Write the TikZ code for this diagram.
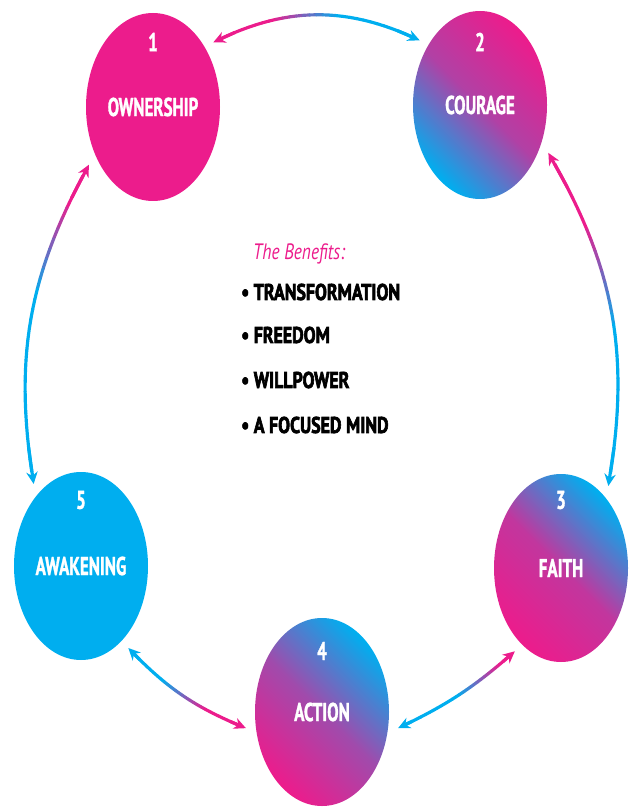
\documentclass[tikz,border=0pt]{standalone}
\usepackage{xcolor}
\usepackage{fontspec}
\usepackage{tikz}
\usetikzlibrary{shapes.geometric,arrows.meta}
\newfontfamily\stagefont{PT Sans}[FakeStretch=0.66, BoldFeatures={FakeBold=1.2}]
\newfontfamily\listfont{PT Sans}[FakeStretch=0.78, BoldFeatures={FakeBold=2.6}]
\definecolor{pinkC}{HTML}{EC1C8C}
\definecolor{cyanC}{HTML}{00AEEF}

\tikzset{
  stage/.style={ellipse, minimum width=40.2mm, minimum height=56.4mm, inner sep=0pt, outer sep=3mm,
    text=white, font=\stagefont\bfseries\fontsize{22}{24}\selectfont},
  stagenum/.style={text=white, inner sep=0pt, font=\stagefont\bfseries\fontsize{22}{24}\selectfont},
  benefit/.style={anchor=west, inner sep=0pt, font=\listfont\bfseries\fontsize{19.5}{22}\selectfont},
  arcline/.style={line width=0.95mm, line cap=round},
  arctip/.style={arcline, -{Stealth[length=3.6mm, width=3.4mm]}}
}

% #1 from, #2 to, #3 bend, #4 colour at start, #5 colour at end, #6 #7 blend range (of 30)
\newcommand{\gradarrow}[7]{%
  \foreach \i in {0,...,30}{
    \path (#1) to[#3] coordinate[pos=\i/30] (g\i) (#2);
  }
  \foreach \i in {1,...,28}{
    \pgfmathtruncatemacro{\j}{\i+1}
    \pgfmathtruncatemacro{\p}{max(0,min(100,100*(#7-\i)/(#7-#6)))}
    \draw[arcline, #4!\p!#5] (g\i) -- (g\j);
  }
  \draw[arctip, #4] (g3) -- (g0);
  \draw[arctip, #5] (g27) -- (g30);
}

\begin{document}
\begin{tikzpicture}[x=0.3mm, y=-0.3mm]
  \useasboundingbox (0,0) rectangle (633,809);

  \node[stage, fill=pinkC] (n1) at (153,107) {OWNERSHIP};
  \node[stage, bottom color=cyanC, top color=pinkC, middle color=pinkC!75!cyanC, shading angle=-45] (n2) at (480,105) {COURAGE};
  \node[stage, top color=cyanC, bottom color=pinkC, middle color=pinkC!82!cyanC, shading angle=-45] (n3) at (561,568) {FAITH};
  \node[stage, top color=cyanC, bottom color=pinkC, middle color=pinkC!68!cyanC, shading angle=-45] (n4) at (322,712) {ACTION};
  \node[stage, fill=cyanC] (n5) at (81,566) {AWAKENING};

  \node[stagenum] (k1) at (153,42) {1};
  \node[stagenum] (k2) at (480,42) {2};
  \node[stagenum] (k3) at (561,500) {3};
  \node[stagenum] (k4) at (322,651) {4};
  \node[stagenum] (k5) at (81,500) {5};

  \gradarrow{n1.47}{n2.133}{bend left=26}{pinkC}{cyanC}{8}{18}
  \gradarrow{n2.325}{n3.60}{bend left=20}{pinkC}{cyanC}{6}{16}
  \gradarrow{n1.222}{n5.120}{bend right=19}{pinkC}{cyanC}{3}{12}
  \gradarrow{n5.300}{n4.192}{bend right=12}{cyanC}{pinkC}{9}{21}
  \gradarrow{n4.348}{n3.241}{bend right=8}{cyanC}{pinkC}{14}{26}

  \node[anchor=west, inner sep=0pt, text=pinkC, font=\listfont\itshape\fontsize{19}{22}\selectfont] (ben0) at (253,254) {The Benefits:};
  \node[benefit] (ben1) at (241,292) {• TRANSFORMATION};
  \node[benefit] (ben2) at (241,335) {• FREEDOM};
  \node[benefit] (ben3) at (241,380) {• WILLPOWER};
  \node[benefit] (ben4) at (241,425) {• A FOCUSED MIND};
\end{tikzpicture}
\end{document}
